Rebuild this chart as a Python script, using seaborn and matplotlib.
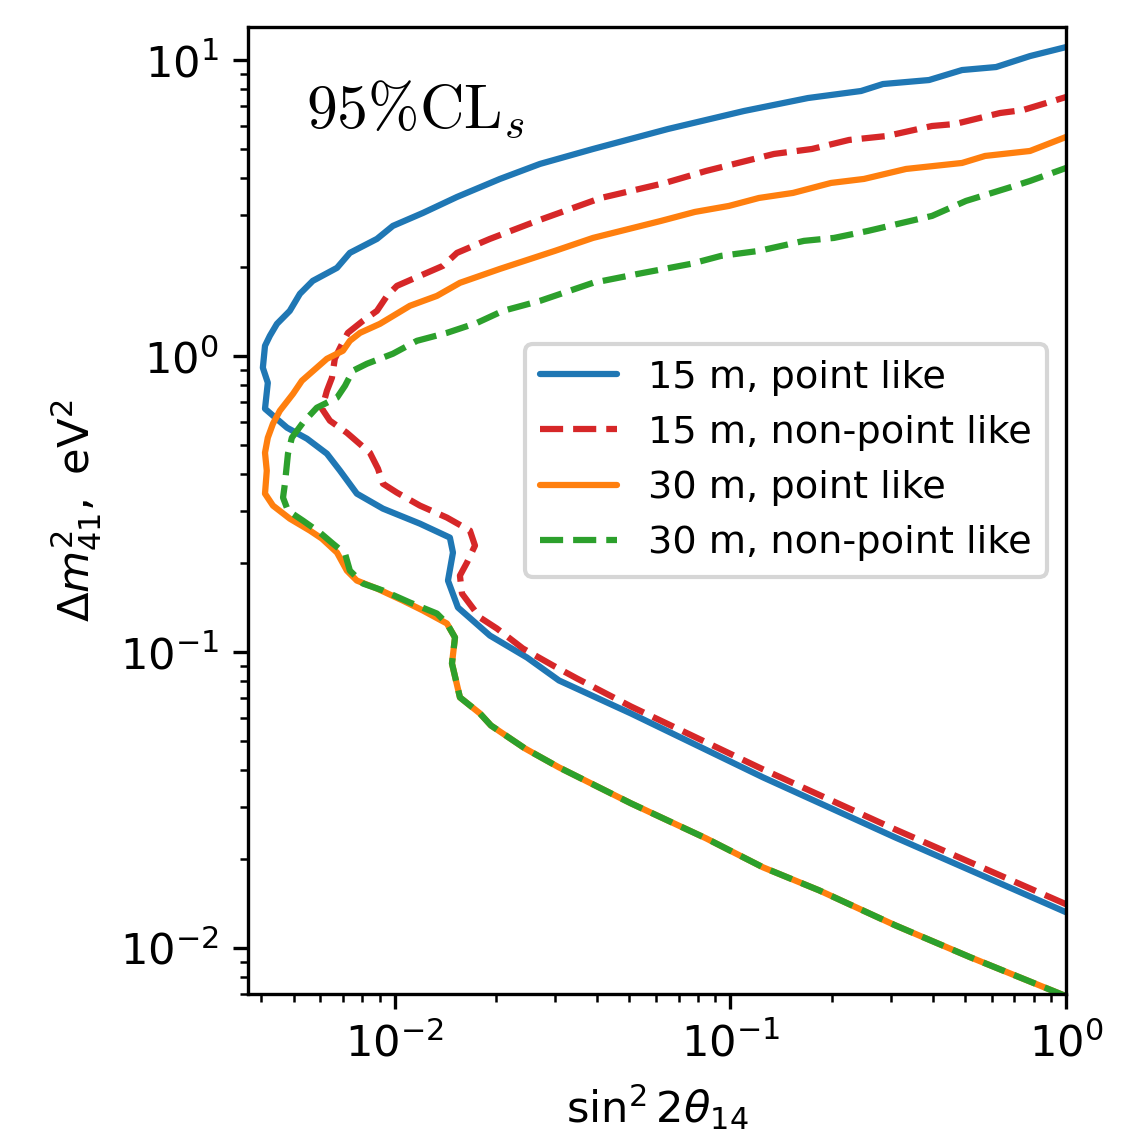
import matplotlib
matplotlib.use('Agg')
import matplotlib.pyplot as plt
import seaborn as sns
import pandas as pd

# 95% CLs exclusion contours
# 15 m, point like
x_15_pl = [1.0, 0.3092, 0.1250, 0.05050, 0.03083, 0.02474, 0.01919, 0.01541, 0.01439,
           0.01489, 0.01458, 0.01187, 0.00921, 0.00770, 0.00686, 0.00627, 0.00547, 0.00477,
           0.00410, 0.00418, 0.00404, 0.00410, 0.00424, 0.00445, 0.00486, 0.00521, 0.00569,
           0.00672, 0.00734, 0.00884, 0.00986, 0.01212, 0.01531, 0.02056, 0.02705, 0.03893,
           0.06513, 0.1097, 0.1702, 0.2449, 0.2847, 0.3905, 0.4898, 0.6186, 0.7808, 1.0]
y_15_pl = [0.01322, 0.02368, 0.03776, 0.06209, 0.08024, 0.09596, 0.1138, 0.1416, 0.1746,
           0.2171, 0.2439, 0.2719, 0.3056, 0.3434, 0.4106, 0.4686, 0.5266, 0.5736,
           0.6648, 0.8140, 0.9146, 1.085, 1.173, 1.287, 1.424, 1.626, 1.798,
           1.990, 2.236, 2.493, 2.758, 3.051, 3.455, 3.975, 4.467, 5.018,
           5.863, 6.744, 7.460, 7.879, 8.318, 8.581, 9.275, 9.494, 10.34, 11.09]

# 15 m, non-point like
x_15_npl = [1.0, 0.3092, 0.1250, 0.05050, 0.03487, 0.02958, 0.02407, 0.02014, 0.01792,
            0.01584, 0.01562, 0.01639, 0.01732, 0.01673, 0.01429, 0.01187, 0.01014, 0.00921,
            0.00890, 0.00842, 0.00719, 0.00640, 0.00606, 0.00627, 0.00649, 0.00662, 0.00686,
            0.00724, 0.00803, 0.00884, 0.00947, 0.01014, 0.01132, 0.01390, 0.01531, 0.01919,
            0.02650, 0.04111, 0.06381, 0.08453, 0.1348, 0.1749, 0.2255, 0.2927, 0.3987,
            0.4668, 0.6358, 0.7443, 1.0]
y_15_npl = [0.01407, 0.02520, 0.04018, 0.06556, 0.08151, 0.09018, 0.1029, 0.1202, 0.1310,
            0.1578, 0.1815, 0.2008, 0.2292, 0.2576, 0.2850, 0.3129, 0.3461, 0.3710,
            0.4171, 0.4723, 0.5515, 0.6058, 0.6648, 0.7647, 0.8461, 0.9807, 1.068,
            1.200, 1.318, 1.424, 1.600, 1.730, 1.827, 2.021, 2.236, 2.493,
            2.867, 3.428, 3.853, 4.229, 4.828, 5.018, 5.383, 5.553, 6.001,
            6.095, 6.639, 6.795, 7.518]

# 30 m, point like
x_30_pl = [1.0, 0.5175, 0.3092, 0.1836, 0.1250, 0.08453, 0.05050, 0.03083, 0.02440,
           0.01932, 0.01792, 0.01562, 0.01479, 0.01510, 0.01429, 0.01212, 0.01056, 0.00884,
           0.00770, 0.00719, 0.00672, 0.00606, 0.00558, 0.00486, 0.00433, 0.00410, 0.00415,
           0.00410, 0.00418, 0.00433, 0.00454, 0.00497, 0.00528, 0.00627, 0.00700, 0.00734,
           0.00787, 0.00902, 0.01108, 0.01334, 0.01562, 0.02056, 0.02998, 0.03893, 0.06206,
           0.07836, 0.09897, 0.1216, 0.1536, 0.1994, 0.2500, 0.3336, 0.4898, 0.5736,
           0.7808, 1.0]
y_30_pl = [0.00688, 0.00932, 0.01195, 0.01568, 0.01875, 0.02350, 0.03085, 0.04080, 0.04730,
           0.05655, 0.06209, 0.07035, 0.09159, 0.1121, 0.1250, 0.1383, 0.1494, 0.1641,
           0.1746, 0.1887, 0.2171, 0.2420, 0.2576, 0.2827, 0.3129, 0.3434, 0.4106,
           0.4723, 0.5307, 0.5918, 0.6546, 0.7468, 0.8265, 0.9807, 1.044, 1.128,
           1.200, 1.287, 1.481, 1.600, 1.771, 1.974, 2.271, 2.512, 2.867,
           3.075, 3.222, 3.428, 3.565, 3.853, 3.975, 4.296, 4.501, 4.753,
           4.941, 5.510]

# 30 m, non-point like
x_30_npl = [1.0, 0.5175, 0.3092, 0.1836, 0.1250, 0.08453, 0.05050, 0.03083, 0.02440,
            0.01932, 0.01792, 0.01562, 0.01479, 0.01510, 0.01429, 0.01334, 0.01108, 0.00921,
            0.00803, 0.00734, 0.00710, 0.00653, 0.00598, 0.00532, 0.00480, 0.00464, 0.00470,
            0.00480, 0.00493, 0.00532, 0.00585, 0.00672, 0.00710, 0.00749, 0.00825, 0.00986,
            0.01163, 0.01429, 0.01756, 0.02099, 0.02705, 0.03893, 0.05302, 0.07624, 0.09369,
            0.1216, 0.1656, 0.2035, 0.2570, 0.3245, 0.3987, 0.5033, 0.6716, 0.7808, 1.0]
y_30_npl = [0.00688, 0.00932, 0.01195, 0.01568, 0.01875, 0.02350, 0.03085, 0.04080, 0.04730,
            0.05655, 0.06209, 0.07035, 0.09159, 0.1121, 0.1250, 0.1351, 0.1472, 0.1616,
            0.1706, 0.1887, 0.2154, 0.2328, 0.2535, 0.2783, 0.3009, 0.3329, 0.3710,
            0.4686, 0.5307, 0.5964, 0.6701, 0.7245, 0.7950, 0.8934, 0.9434, 1.020,
            1.128, 1.200, 1.297, 1.424, 1.539, 1.771, 1.899, 2.053, 2.184,
            2.271, 2.455, 2.512, 2.653, 2.823, 2.981, 3.350, 3.706, 3.913, 4.329]

labels = ['15 m, point like', '15 m, non-point like', '30 m, point like', '30 m, non-point like']
colors = ['tab:blue', 'tab:red', 'tab:orange', 'tab:green']
styles = ['-', '--', '-', '--']
xs_all = [x_15_pl, x_15_npl, x_30_pl, x_30_npl]
ys_all = [y_15_pl, y_15_npl, y_30_pl, y_30_npl]

sns.set_style('ticks', {'axes.edgecolor': 'black', 'xtick.color': 'black',
                        'ytick.color': 'black', 'text.color': 'black',
                        'axes.labelcolor': 'black'})
plt.rcParams['font.family'] = ['DejaVu Sans']
plt.rcParams['font.size'] = 10.4
plt.rcParams['legend.fontsize'] = 9.2

fig, ax = plt.subplots(figsize=(1123 / 300, 1134 / 300), dpi=300)
fig.subplots_adjust(left=0.2211, right=0.9493, bottom=0.1235, top=0.9765)
ax.set_xscale('log')
ax.set_yscale('log')

for xs, ys, lab, c, ls in zip(xs_all, ys_all, labels, colors, styles):
    df = pd.DataFrame({'x': xs, 'y': ys})
    sns.lineplot(data=df, x='x', y='y', sort=False, estimator=None, color=c,
                 linestyle=ls, linewidth=1.5, label=lab, ax=ax)

ax.set_xlim(0.003656, 1.0)
ax.set_ylim(7e-3, 13)
ax.set_xlabel(r'$\sin^2 2\theta_{14}$')
ax.set_ylabel(r'$\Delta m^2_{41},\ \mathrm{eV}^2$')

ax.text(0.071, 0.896, r'$95\%\mathrm{CL}_s$', transform=ax.transAxes,
        fontsize=14.8, math_fontfamily='cm', va='baseline')

ax.legend(loc='center right', bbox_to_anchor=(1.0, 0.5515))

fig.savefig('out.png', dpi=300)
